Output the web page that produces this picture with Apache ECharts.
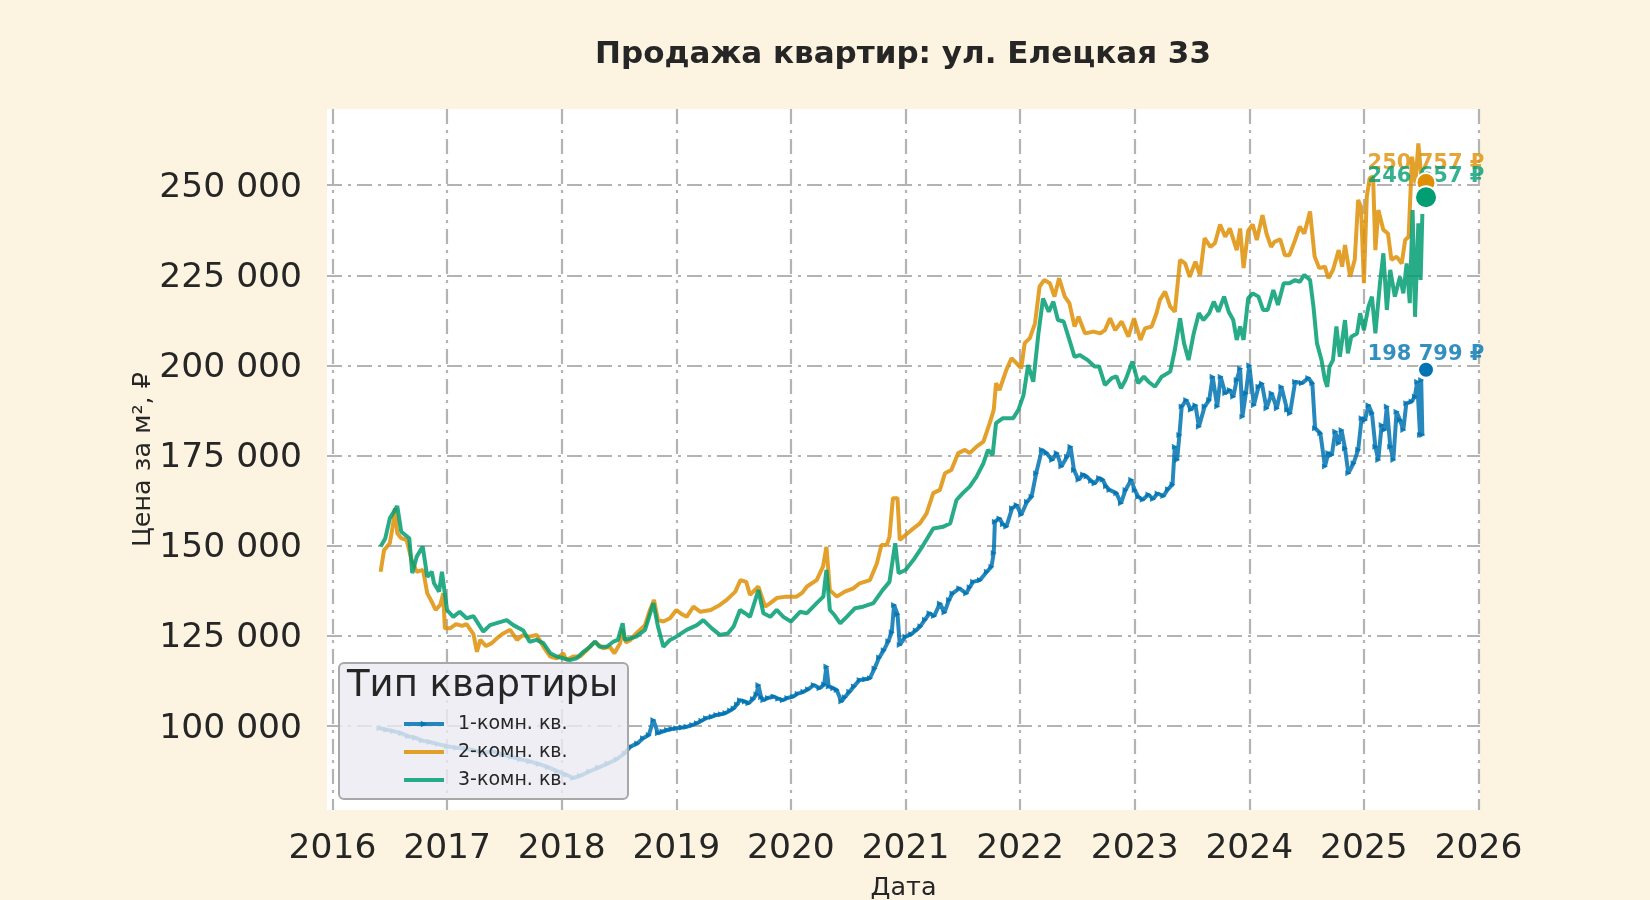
<!DOCTYPE html>
<html>
<head>
<meta charset="utf-8">
<script src="https://cdn.jsdelivr.net/npm/echarts@6/dist/echarts.min.js"></script>
<style>
html,body{margin:0;padding:0;background:#fcf4e1;}
#chart{width:1650px;height:900px;}
</style>
</head>
<body>
<div id="chart"></div>
<script>
// ---- data (decimal year, price per m2) ----
const room1 = [
[2016.41,99400],[2016.47,99000],[2016.53,98600],[2016.60,98000],[2016.66,97200],[2016.72,96800],[2016.78,96000],[2016.85,95600],[2016.92,95000],
[2017.00,94400],[2017.08,94000],[2017.16,93800],[2017.24,93200],[2017.32,92600],[2017.40,93000],[2017.48,92200],[2017.56,91500],[2017.64,90800],
[2017.72,90200],[2017.80,89500],[2017.88,88600],[2017.96,87500],[2018.04,86500],[2018.10,85600],[2018.16,86200],[2018.24,87400],[2018.32,88500],
[2018.40,89600],[2018.48,90800],[2018.55,92500],[2018.60,94300],[2018.66,95200],[2018.71,96600],[2018.76,97500],[2018.80,101700],[2018.84,98000],
[2018.88,98500],[2018.92,98900],[2018.96,99200],[2019.00,99400],[2019.05,99600],[2019.09,99800],[2019.14,100300],[2019.18,100800],[2019.22,101500],
[2019.26,102200],[2019.31,102600],[2019.35,103100],[2019.39,103300],[2019.43,103600],[2019.47,104300],[2019.50,104900],[2019.53,106000],[2019.556,107200],
[2019.60,106800],[2019.63,106300],[2019.67,107500],[2019.70,108800],[2019.716,111400],[2019.74,108000],[2019.76,107200],[2019.80,107800],[2019.85,108200],
[2019.89,107600],[2019.93,107200],[2019.97,107800],[2020.02,108200],[2020.06,109000],[2020.11,109500],[2020.15,110200],[2020.20,111400],[2020.25,110500],
[2020.29,111500],[2020.31,116500],[2020.33,111000],[2020.37,110500],[2020.40,110000],[2020.44,106800],[2020.47,108000],[2020.51,109500],[2020.55,111000],
[2020.60,112800],[2020.65,113000],[2020.69,113300],[2020.73,116000],[2020.77,119000],[2020.81,121000],[2020.85,123500],[2020.88,126000],[2020.90,133600],
[2020.93,131000],[2020.95,122500],[2021.00,124800],[2021.05,125500],[2021.09,126500],[2021.13,127700],[2021.17,129500],[2021.21,131300],[2021.25,130500],
[2021.30,134000],[2021.34,131500],[2021.38,135000],[2021.41,136800],[2021.47,138200],[2021.53,136800],[2021.56,138500],[2021.59,140000],[2021.65,140500],
[2021.71,142800],[2021.75,144200],[2021.77,148000],[2021.78,156700],[2021.82,157600],[2021.85,156000],[2021.88,155300],[2021.93,160400],[2021.97,161300],
[2022.01,158600],[2022.06,162200],[2022.10,163600],[2022.14,170100],[2022.19,176600],[2022.23,175700],[2022.28,173800],[2022.32,175700],[2022.36,172000],
[2022.41,174700],[2022.44,177500],[2022.47,171000],[2022.51,168300],[2022.55,169800],[2022.58,169200],[2022.62,168000],[2022.65,167300],[2022.69,168800],
[2022.72,168300],[2022.75,166500],[2022.78,165500],[2022.84,164600],[2022.88,161800],[2022.92,165500],[2022.97,168300],[2023.00,165500],[2023.03,163600],
[2023.07,162800],[2023.12,164200],[2023.16,163000],[2023.20,164500],[2023.25,163800],[2023.29,165700],[2023.33,167000],[2023.35,177500],[2023.37,173800],
[2023.39,180700],[2023.41,188600],[2023.45,190400],[2023.49,187700],[2023.53,189000],[2023.56,183000],[2023.61,188600],[2023.65,190400],[2023.68,196900],
[2023.72,188600],[2023.75,196900],[2023.79,192300],[2023.83,193200],[2023.86,191300],[2023.89,196000],[2023.92,199200],[2023.94,185800],[2023.97,192300],
[2024.00,200100],[2024.04,189000],[2024.08,194100],[2024.11,195000],[2024.15,188100],[2024.195,192300],[2024.24,188100],[2024.28,194100],[2024.33,187700],
[2024.355,186700],[2024.40,195500],[2024.46,195100],[2024.515,196500],[2024.55,195100],[2024.574,182600],[2024.62,181200],[2024.66,172000],[2024.69,175700],
[2024.72,175200],[2024.75,181700],[2024.78,178400],[2024.805,182100],[2024.835,177000],[2024.864,170100],[2024.91,172900],[2024.95,176600],[2024.98,185400],
[2025.01,184900],[2025.04,189000],[2025.07,186800],[2025.10,177500],[2025.125,173800],[2025.155,183500],[2025.18,182100],[2025.20,188600],[2025.23,177500],
[2025.257,173800],[2025.285,187200],[2025.315,184900],[2025.344,182100],[2025.37,189500],[2025.417,190000],[2025.445,191400],[2025.465,195500],[2025.49,180700],
[2025.50,196000],[2025.51,180700]
];
const room2 = [
[2016.42,142800],[2016.45,148800],[2016.50,150700],[2016.53,156200],[2016.545,160400],[2016.565,153500],[2016.60,152100],[2016.647,151600],[2016.69,146100],
[2016.735,142800],[2016.79,143300],[2016.827,136800],[2016.866,134500],[2016.90,132200],[2016.94,133600],[2016.967,136800],[2016.98,127100],[2017.025,127100],
[2017.078,128300],[2017.13,127800],[2017.17,128300],[2017.23,125500],[2017.26,120600],[2017.29,123900],[2017.34,122200],[2017.39,123000],[2017.44,124500],
[2017.49,125700],[2017.55,126700],[2017.61,123900],[2017.66,125200],[2017.72,124800],[2017.78,125300],[2017.84,122000],[2017.90,119300],[2017.956,118800],
[2018.014,120200],[2018.04,118300],[2018.10,119300],[2018.16,119300],[2018.22,121100],[2018.29,123400],[2018.36,121600],[2018.42,122000],[2018.46,120200],
[2018.51,123000],[2018.53,127000],[2018.56,123200],[2018.60,123900],[2018.65,125700],[2018.727,128000],[2018.77,132200],[2018.805,135000],[2018.84,129400],
[2018.887,129000],[2018.945,129900],[2019.00,132200],[2019.05,131000],[2019.09,130300],[2019.15,133100],[2019.21,131700],[2019.30,132200],[2019.38,133600],
[2019.44,135000],[2019.515,137300],[2019.56,140500],[2019.61,140000],[2019.643,136400],[2019.716,138700],[2019.775,133100],[2019.82,134100],[2019.876,135500],
[2019.96,135900],[2020.05,135900],[2020.10,137000],[2020.14,138700],[2020.225,140500],[2020.28,144200],[2020.31,149700],[2020.34,137700],[2020.40,135900],
[2020.47,137300],[2020.545,138200],[2020.60,139600],[2020.69,140500],[2020.75,145100],[2020.79,150200],[2020.836,150200],[2020.86,152500],[2020.89,163200],
[2020.93,163200],[2020.95,151600],[2021.00,153000],[2021.053,154400],[2021.126,156200],[2021.184,159000],[2021.242,164600],[2021.30,165500],[2021.344,170100],
[2021.40,171000],[2021.46,175700],[2021.518,176600],[2021.56,175700],[2021.62,177500],[2021.68,178900],[2021.735,184000],[2021.77,187700],[2021.79,195100],
[2021.82,193200],[2021.88,198800],[2021.925,202000],[2021.97,200600],[2022.01,199200],[2022.04,206200],[2022.085,207600],[2022.13,211700],[2022.17,221900],
[2022.21,223700],[2022.26,222800],[2022.30,219100],[2022.34,224200],[2022.39,219100],[2022.43,217300],[2022.475,210800],[2022.51,213500],[2022.566,208900],
[2022.64,209400],[2022.70,208900],[2022.74,209800],[2022.785,213100],[2022.83,209800],[2022.886,212200],[2022.945,208000],[2022.994,213100],[2023.05,207100],
[2023.09,210300],[2023.148,210800],[2023.19,214500],[2023.22,218200],[2023.265,220500],[2023.31,216300],[2023.35,214900],[2023.396,229300],[2023.44,228300],
[2023.48,224600],[2023.53,228800],[2023.57,225100],[2023.61,235300],[2023.66,232900],[2023.70,233900],[2023.745,239100],[2023.79,235700],[2023.83,238000],
[2023.89,232000],[2023.92,238000],[2023.95,227000],[2023.99,237400],[2024.03,239100],[2024.065,234800],[2024.115,241700],[2024.15,236600],[2024.19,232900],
[2024.22,234300],[2024.27,235000],[2024.31,230600],[2024.35,230600],[2024.40,234800],[2024.44,238500],[2024.48,236600],[2024.53,242700],[2024.57,230200],
[2024.61,227000],[2024.66,227400],[2024.69,224200],[2024.73,226500],[2024.78,232000],[2024.81,227400],[2024.835,233400],[2024.88,224600],[2024.92,229300],
[2024.95,245900],[2024.975,244000],[2025.00,222800],[2025.025,246800],[2025.05,251900],[2025.08,252400],[2025.10,232000],[2025.126,243100],[2025.17,237600],
[2025.21,236600],[2025.24,229300],[2025.285,230200],[2025.33,228300],[2025.36,234800],[2025.39,235700],[2025.42,257900],[2025.45,250500],[2025.475,261600],
[2025.51,249000]
];
const room3 = [
[2016.42,149800],[2016.46,152000],[2016.50,157600],[2016.565,161000],[2016.60,153900],[2016.67,152100],[2016.696,142400],[2016.735,147000],[2016.787,149800],
[2016.827,141400],[2016.866,142800],[2016.886,139600],[2016.93,137300],[2016.955,142800],[2016.98,136800],[2017.00,132200],[2017.054,130300],[2017.11,131700],
[2017.17,129900],[2017.23,130500],[2017.316,126200],[2017.374,128000],[2017.447,128700],[2017.52,129400],[2017.578,128000],[2017.665,126500],[2017.72,123400],
[2017.78,123900],[2017.84,123000],[2017.90,120200],[2017.956,119300],[2018.014,118800],[2018.07,118300],[2018.13,118800],[2018.19,120600],[2018.247,122000],
[2018.29,123400],[2018.33,122000],[2018.393,122000],[2018.45,123400],[2018.49,123900],[2018.532,128500],[2018.55,123900],[2018.60,124300],[2018.65,124800],
[2018.727,126700],[2018.80,134100],[2018.84,127600],[2018.887,122000],[2018.945,123900],[2019.00,124800],[2019.09,126700],[2019.18,128000],[2019.235,129400],
[2019.31,127100],[2019.38,125300],[2019.45,125700],[2019.50,127600],[2019.556,132200],[2019.60,131300],[2019.643,130300],[2019.716,137700],[2019.76,131300],
[2019.82,130300],[2019.876,132200],[2019.934,130300],[2020.00,129000],[2020.08,131700],[2020.14,131300],[2020.225,134100],[2020.283,135900],[2020.31,143300],
[2020.34,132200],[2020.38,130800],[2020.43,128500],[2020.487,130300],[2020.56,132700],[2020.63,133100],[2020.72,134100],[2020.80,137700],[2020.86,140000],
[2020.91,150700],[2020.94,142400],[2021.00,143300],[2021.07,146100],[2021.155,150200],[2021.242,154800],[2021.33,155300],[2021.39,156200],[2021.445,162700],
[2021.50,164600],[2021.56,166400],[2021.62,169200],[2021.68,172900],[2021.72,176600],[2021.76,175200],[2021.79,184000],[2021.85,185400],[2021.94,185400],
[2021.985,187700],[2022.03,191800],[2022.07,200100],[2022.115,195500],[2022.16,208900],[2022.20,218600],[2022.25,214900],[2022.29,217700],[2022.33,212600],
[2022.38,212200],[2022.43,207100],[2022.475,202400],[2022.52,202900],[2022.59,201500],[2022.65,199700],[2022.69,199700],[2022.74,194600],[2022.80,196500],
[2022.84,197000],[2022.88,193700],[2022.92,196000],[2022.98,201100],[2023.03,195100],[2023.08,196900],[2023.12,195500],[2023.177,194100],[2023.235,196900],
[2023.31,198300],[2023.35,204300],[2023.396,213100],[2023.43,206200],[2023.47,201500],[2023.515,208900],[2023.56,214500],[2023.60,212600],[2023.65,214500],
[2023.69,217700],[2023.73,214900],[2023.78,219100],[2023.82,214900],[2023.86,212600],[2023.89,207100],[2023.92,210800],[2023.95,207100],[2023.99,218600],
[2024.03,220000],[2024.08,219100],[2024.12,215400],[2024.16,215400],[2024.21,220900],[2024.25,216800],[2024.30,222800],[2024.35,222800],[2024.40,223700],
[2024.44,223200],[2024.48,225100],[2024.53,223700],[2024.56,216300],[2024.59,206200],[2024.63,201500],[2024.66,196000],[2024.68,194100],[2024.70,199700],
[2024.73,201500],[2024.76,210800],[2024.79,202400],[2024.835,212600],[2024.86,203400],[2024.89,208000],[2024.94,208900],[2024.967,214500],[2025.00,209800],
[2025.04,216300],[2025.07,219100],[2025.10,208900],[2025.14,222800],[2025.17,231100],[2025.20,215400],[2025.23,226500],[2025.27,219100],[2025.315,224600],
[2025.344,220000],[2025.373,228300],[2025.40,217300],[2025.425,243100],[2025.446,213500],[2025.475,239400],[2025.495,223700],[2025.51,242000]
];
const seriesNames = ['1-комн. кв.', '2-комн. кв.', '3-комн. кв.'];
const lastYear = 2025.542;
const lastValues = [198799, 250757, 246657];
const xTicks = [2016, 2017, 2018, 2019, 2020, 2021, 2022, 2023, 2024, 2025, 2026];
const yTicks = [100000, 125000, 150000, 175000, 200000, 225000, 250000];

// ---- styling ----
const lineColors = ['#0173b2', '#de8f05', '#029e73'];
const labelOffsets = [-15, -19, -21];
const markerSizes = [16, 19, 22];
const FONT = 'DejaVu Sans';
const TXT = '#262626';
const fmt = v => String(v).replace(/\B(?=(\d{3})+(?!\d))/g, ' ');

const chart = echarts.init(document.getElementById('chart'), null, {renderer: 'canvas'});

const lineSeries = [room1, room2, room3].map((d, i) => ({
  name: seriesNames[i],
  type: 'line',
  data: d,
  z: 2,
  symbol: i === 0 ? 'triangle' : 'none',
  symbolRotate: -90,
  symbolSize: 6,
  showSymbol: i === 0,
  showAllSymbol: true,
  lineStyle: {color: lineColors[i], width: 4, opacity: 0.85},
  itemStyle: {color: lineColors[i], opacity: 0.85},
  emphasis: {disabled: true},
  animation: false
}));

const labelSeries = {
  type: 'scatter',
  z: 3,
  symbol: 'circle',
  symbolSize: 0.1,
  itemStyle: {color: 'rgba(0,0,0,0)'},
  data: lastValues.map((v, i) => ({
    value: [lastYear, v],
    label: {
      show: true,
      position: 'inside',
      offset: [0, labelOffsets[i]],
      formatter: fmt(v) + ' ₽',
      color: lineColors[i],
      fontSize: 21,
      fontWeight: 'bold',
      fontFamily: FONT
    }
  })),
  silent: true,
  animation: false
};

const markerSeries = lastValues.map((v, i) => ({
  type: 'scatter',
  z: i === 2 ? 7 : 6,
  data: [[lastYear, v]],
  symbolSize: markerSizes[i],
  itemStyle: {color: lineColors[i], borderColor: '#ffffff', borderWidth: 2, opacity: 1},
  silent: true,
  animation: false
}));

const option = {
  backgroundColor: '#fcf4e1',
  animation: false,
  textStyle: {fontFamily: FONT},
  grid: {left: 327, right: 170, top: 109, bottom: 90, show: true, backgroundColor: '#ffffff', borderWidth: 0, containLabel: false, outerBoundsMode: 'none'},
  xAxis: {
    type: 'value',
    min: 2015.952,
    max: 2026.013,
    axisLine: {show: false},
    axisTick: {show: false, customValues: xTicks},
    axisLabel: {customValues: xTicks, formatter: v => String(Math.round(v)), fontSize: 34.5, color: TXT, margin: 22, fontFamily: FONT},
    splitLine: {show: true, lineStyle: {color: '#b3b3b3', width: 2.2, type: [15, 6, 3, 6]}},
    name: 'Дата',
    nameLocation: 'middle',
    nameGap: 65,
    nameMoveOverlap: false,
    nameTextStyle: {fontSize: 25.5, color: TXT, fontFamily: FONT}
  },
  yAxis: {
    type: 'value',
    min: 76730,
    max: 271130,
    axisLine: {show: false},
    axisTick: {show: false, customValues: yTicks},
    axisLabel: {customValues: yTicks, formatter: v => '{v|' + fmt(v) + '}', color: TXT, margin: 25,
      rich: {v: {fontSize: 34.5, color: TXT, fontFamily: FONT, padding: [5, 0, 0, 0]}}},
    splitLine: {show: true, lineStyle: {color: '#b3b3b3', width: 2.2, type: [15, 6, 3, 6]}},
    name: 'Цена за м², ₽',
    nameLocation: 'middle',
    nameRotate: 90,
    nameGap: 171,
    nameMoveOverlap: false,
    nameTextStyle: {fontSize: 25.5, color: TXT, fontFamily: FONT}
  },
  legend: {
    data: seriesNames.map((n, i) => i === 0 ? {name: n} : {name: n, itemStyle: {opacity: 0}}),
    orient: 'vertical',
    left: 402,
    top: 714,
    itemWidth: 40,
    itemHeight: 8,
    itemGap: 8,
    padding: 0,
    selectedMode: false,
    z: 20,
    lineStyle: {width: 4},
    textStyle: {fontSize: 19, color: TXT, fontFamily: FONT, padding: [0, 0, 0, 9], lineHeight: 20}
  },
  graphic: [
    {type: 'rect', z: 10, shape: {x: 339, y: 663, width: 289, height: 136, r: 5},
     style: {fill: 'rgba(234,234,242,0.82)', stroke: '#a8a8a8', lineWidth: 2}},
    {type: 'text', z: 21, x: 347, y: 686,
     style: {text: 'Тип квартиры', fill: TXT, font: '37px "DejaVu Sans"', align: 'left', verticalAlign: 'middle'}},
    {type: 'text', z: 21, x: 903, y: 55,
     style: {text: 'Продажа квартир: ул. Елецкая 33', fill: TXT, font: 'bold 31px "DejaVu Sans"', align: 'center', verticalAlign: 'middle'}}
  ],
  series: [...lineSeries, labelSeries, ...markerSeries]
};
chart.setOption(option);
</script>
</body>
</html>
